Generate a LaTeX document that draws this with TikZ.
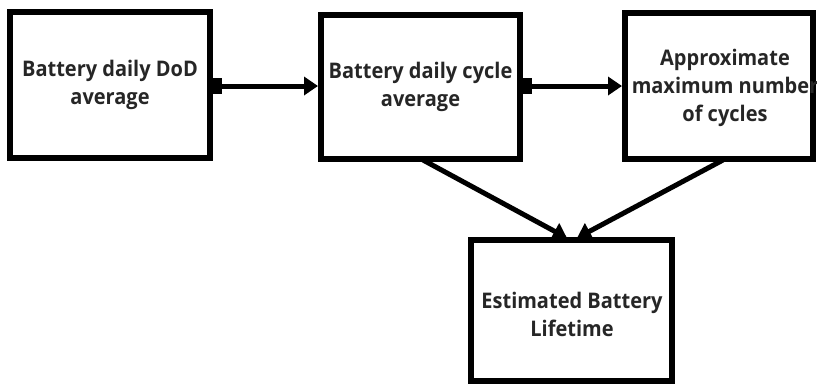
\documentclass[tikz,border=0pt]{standalone}
\usepackage{fontspec}
\setmainfont{Open Sans}[FakeStretch=0.93]
\usetikzlibrary{arrows.meta}
\tikzset{
  lbl/.style={font=\fontsize{21.5}{28}\selectfont\bfseries, text=black!85, align=center},
  blk/.style={draw=black, line width=6pt, fill=white, inner sep=0pt, lbl},
  conn/.style={line width=5pt, draw=black, -{Triangle[length=14pt,width=18pt]}},
  tab/.style={{Rectangle[length=9pt,width=16pt]}-{Triangle[length=14pt,width=18pt]}}
}
\begin{document}
\begin{tikzpicture}[x=1pt,y=-1pt]
\useasboundingbox (0,0) rectangle (817,384);
\node[blk, minimum width=200pt, minimum height=146pt] (b1) at (110,85) {Battery daily DoD\\average};
\node[blk, minimum width=199pt, minimum height=144pt] (b2) at (420.5,87) {Battery daily cycle\\average};
\node[blk, minimum width=188pt, minimum height=146pt] (b3) at (719,86) {};
\node[blk, minimum width=201pt, minimum height=141pt] (b4) at (571.5,310.5) {};
\node[lbl] (t3) at (725,88) {Approximate\\maximum number\\of cycles};
\node[lbl] (t4) at (572,314) {Estimated Battery\\Lifetime};
\coordinate (b4l) at (567,238);
\coordinate (b4r) at (577,238);
\coordinate (b2d) at (423,160);
\coordinate (b3d) at (723,160);
\draw[conn, tab] (b1.east |- 0,86) -- (b2.west |- 0,86);
\draw[conn, tab] (b2.east |- 0,86) -- (b3.west |- 0,86);
\draw[conn] (b2d) -- (b4l);
\draw[conn] (b3d) -- (b4r);
\end{tikzpicture}
\end{document}
